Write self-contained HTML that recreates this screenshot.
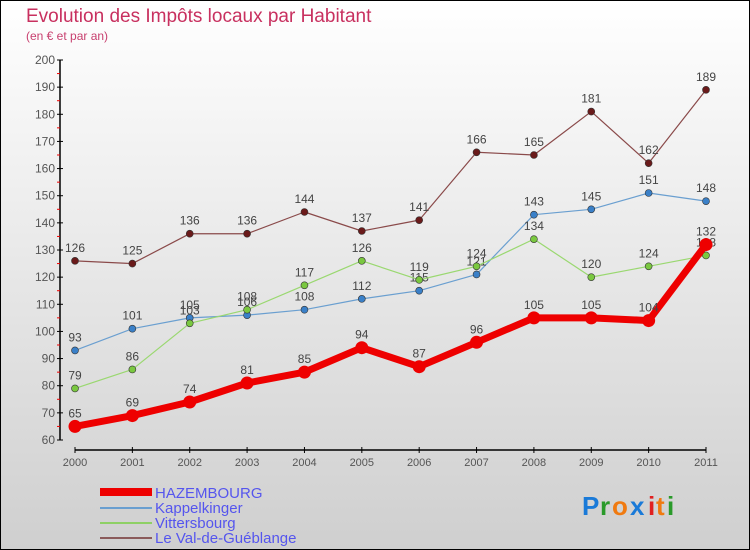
<!DOCTYPE html>
<html><head><meta charset="utf-8"><style>
body{margin:0;width:750px;height:550px;overflow:hidden}
#c{position:absolute;left:0;top:0;width:748px;height:548px;border:1px solid #000;background:linear-gradient(#ffffff,#cfcfcf)}
text{font-family:"Liberation Sans",sans-serif}
</style></head><body>
<div id="c">
<svg id="s" width="750" height="550" style="position:absolute;left:-1px;top:-1px">
<text x="26" y="22" font-size="19" fill="#c8305f">Evolution des Impôts locaux par Habitant</text>
<text x="26" y="40" font-size="12" fill="#c8406f">(en € et par an)</text>
<g id="g"></g>
<g>
<rect x="100" y="488" width="52" height="8" fill="#e00"/>
<text x="155" y="498" font-size="15" fill="#5555ee">HAZEMBOURG</text>
<rect x="100" y="507" width="52" height="2" fill="#6a9fd0"/>
<text x="155" y="513" font-size="15" fill="#5555ee">Kappelkinger</text>
<rect x="100" y="522" width="52" height="2" fill="#8ed065"/>
<text x="155" y="528" font-size="15" fill="#5555ee">Vittersbourg</text>
<rect x="100" y="537" width="52" height="2" fill="#8a5a5a"/>
<text x="155" y="543" font-size="15" fill="#5555ee">Le Val-de-Guéblange</text>
</g>
<g font-size="26" font-weight="bold">
<text x="582" y="515" fill="#1a7ad8">P</text><text x="600" y="515" fill="#2a9a2a">r</text><text x="612" y="515" fill="#f07a10">o</text><text x="630" y="515" fill="#1a7ad8">x</text><text x="648" y="515" fill="#e02020">i</text><text x="656" y="515" fill="#f07a10">t</text><text x="667" y="515" fill="#2a9a2a">i</text>
</g>
</svg></div>
<script>
const years=[2000,2001,2002,2003,2004,2005,2006,2007,2008,2009,2010,2011];
const hazembourg=[65,69,74,81,85,94,87,96,105,105,104,132];
const kappelkinger=[93,101,105,106,108,112,115,121,143,145,151,148];
const vittersbourg=[79,86,103,108,117,126,119,124,134,120,124,128];
const valDeGueblange=[126,125,136,136,144,137,141,166,165,181,162,189];
const yTicks=[60,70,80,90,100,110,120,130,140,150,160,170,180,190,200];
const NS="http://www.w3.org/2000/svg";
const g=document.getElementById('g');
const X=i=>75+i*(706-75)/11;
const Y=v=>440-(v-60)*(380/140);
function mk(t,a){const e=document.createElementNS(NS,t);for(const k in a)e.setAttribute(k,a[k]);g.appendChild(e);return e;}
let e=mk('line',{x1:60,y1:Y(200),x2:60,y2:Y(60),stroke:'#000','stroke-width':1.5});


e=mk('line',{x1:75,y1:450,x2:706,y2:450,stroke:'#000','stroke-width':1.5});


yTicks.forEach(v=>{
 mk('line',{x1:57,y1:Y(v),x2:63,y2:Y(v),stroke:'#000'});
 if(v<200) mk('line',{x1:57,y1:Y(v+5),x2:60,y2:Y(v+5),stroke:'#e00'});
 const t=mk('text',{x:55,y:Y(v)+4,'font-size':12,fill:'#555','text-anchor':'end'});t.textContent=v;
 
 
});
years.forEach((y,i)=>{
 mk('line',{x1:X(i),y1:447,x2:X(i),y2:453,stroke:'#000'});
 const t=mk('text',{x:X(i),y:466,'font-size':11,fill:'#555','text-anchor':'middle'});t.textContent=y;
 
 
});
function series(d,col,dot,w,r,name){
 const p=mk('polyline',{points:d.map((v,i)=>X(i)+','+Y(v)).join(' '),fill:'none',stroke:col,'stroke-width':w,'stroke-linejoin':'round'});
 
 
 d.forEach((v,i)=>{
  const c=mk('circle',{cx:X(i),cy:Y(v),r:r,fill:dot,stroke:'#333','stroke-width':w>3?0:0.6});
  
  
  const t=mk('text',{x:X(i),y:Y(v)-9,'font-size':12,fill:'#444','text-anchor':'middle'});t.textContent=v;
  
  
 });
}
series(valDeGueblange,'#8a4a4a','#6a1a1a',1.2,3.5,'le-val-de-gueblange');
series(kappelkinger,'#6a9fd0','#3a80c8',1.2,3.5,'kappelkinger');
series(vittersbourg,'#9ad870','#7ac840',1.2,3.5,'vittersbourg');
series(hazembourg,'#ee0000','#ee0000',7,6.5,'hazembourg');
</script>
</body></html>
